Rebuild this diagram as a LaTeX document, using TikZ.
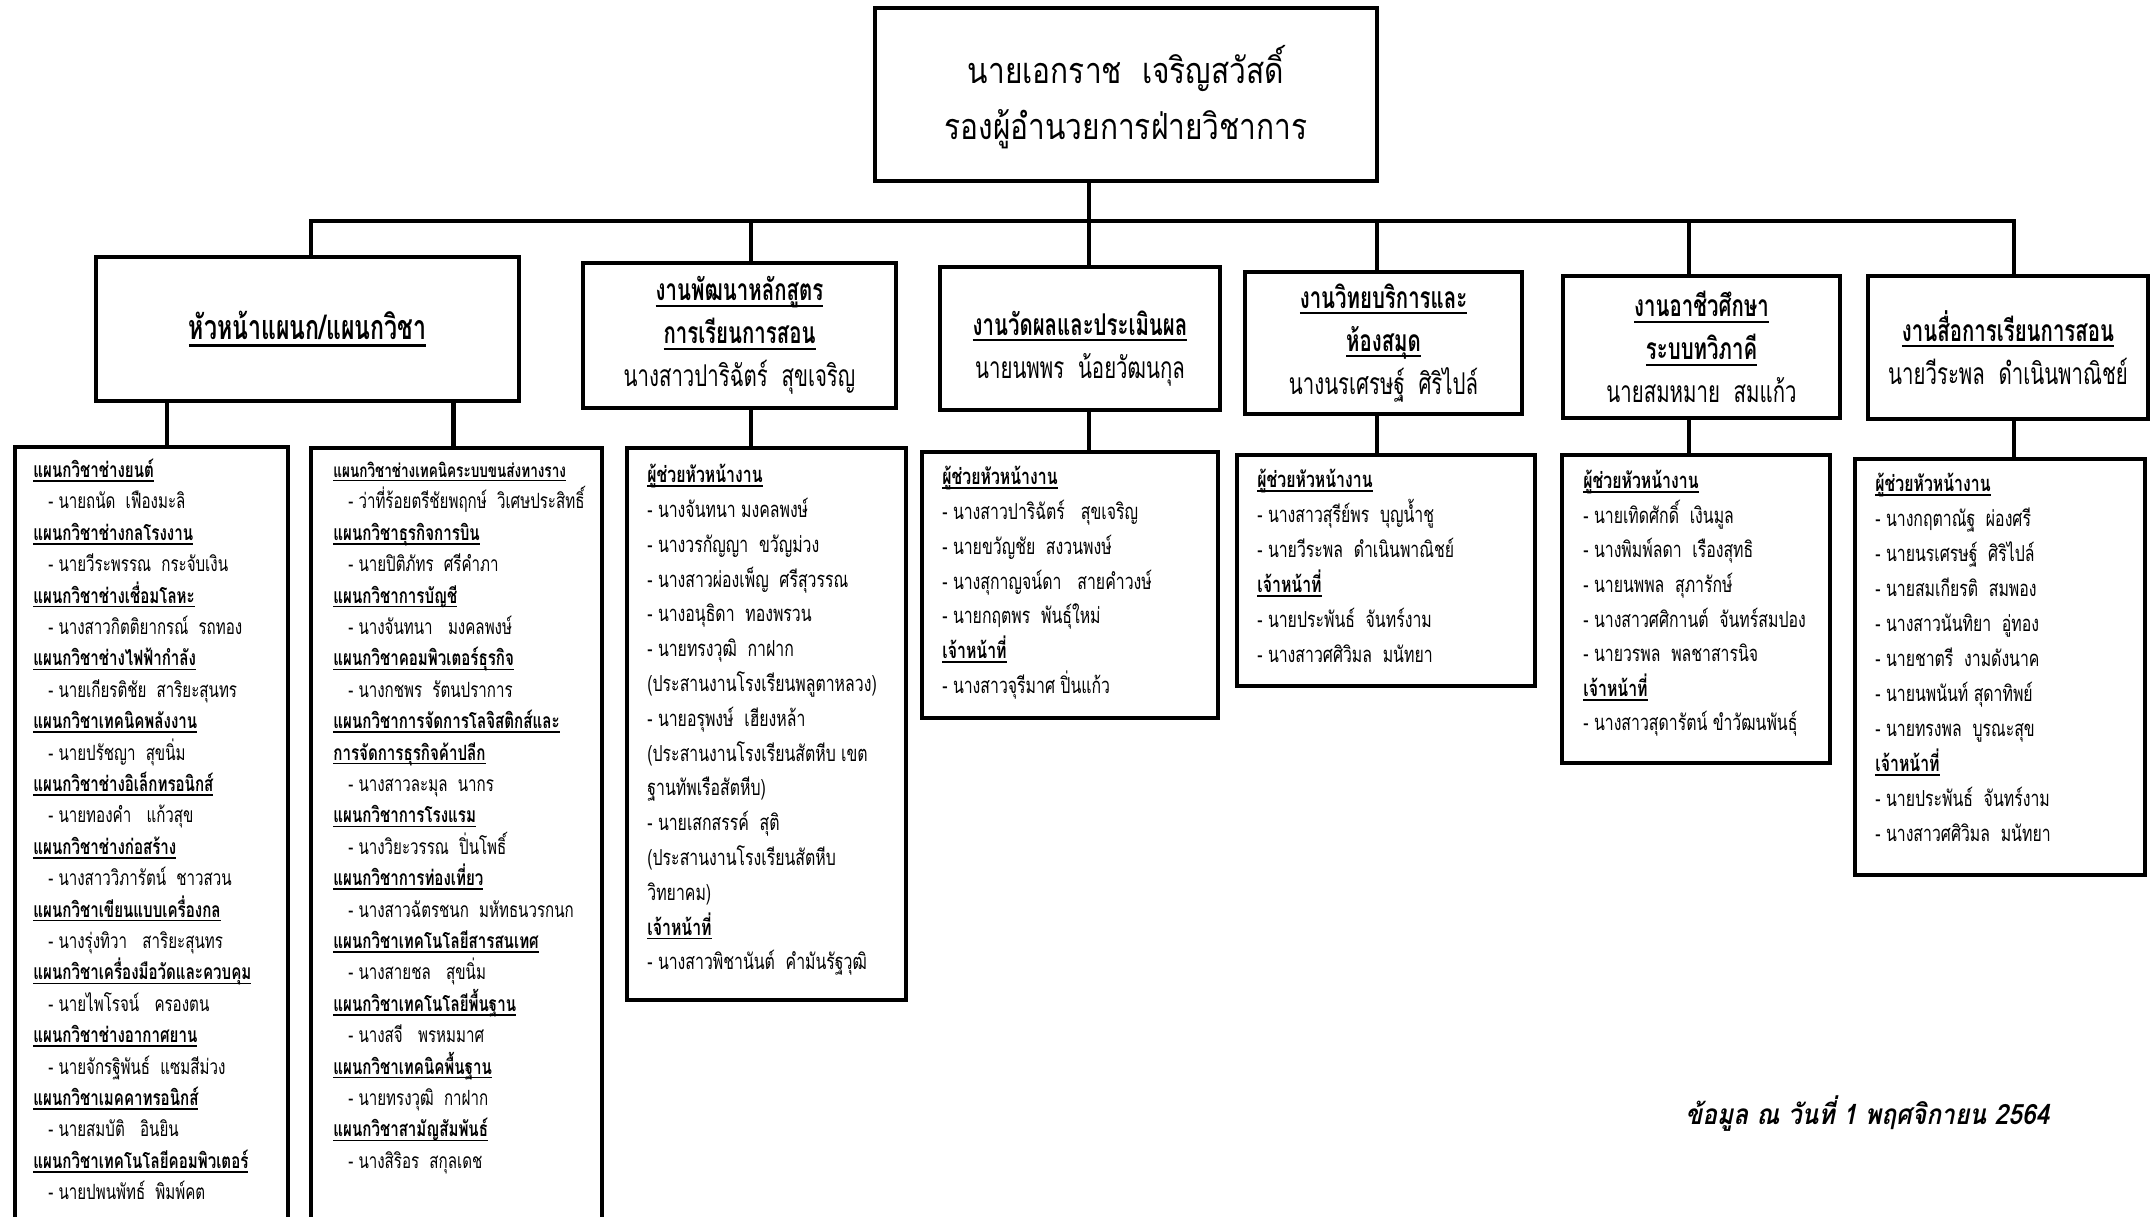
\documentclass[tikz,border=0pt]{standalone}
\usepackage{fontspec}
\usepackage{tikz}
\newfontfamily\topfont[Script=Thai,FakeStretch=0.83]{Loma}
\newfontfamily\headfont[Script=Thai,FakeStretch=0.68]{Loma}
\newfontfamily\listfont[Script=Thai,FakeStretch=0.72]{Loma}
\newfontfamily\datefont[Script=Thai,FakeSlant=0.2,FakeStretch=0.88]{Loma}
\newcommand{\hd}[1]{\setbox0=\hbox{\bfseries #1}\rlap{\rule[-0.2em]{\wd0}{0.07em}}\box0}
\newcommand{\ind}{\hspace*{7.5pt}}
\newcommand{\toprule}{\rule{0pt}{1.1em}}

\begin{document}
\begin{tikzpicture}[x=0.5pt,y=-0.5pt,
	boxnode/.style={draw, line width=2.2pt, inner sep=0pt, outer sep=0pt, align=center},
	link/.style={line width=2.2pt, line join=miter},
	listnode/.style={anchor=north west, align=left, inner sep=0pt}]
	\useasboundingbox (0,0) rectangle (2152,1216);
	\clip (0,0) rectangle (2152,1216);
	%%%nodes
	%top
	\node[boxnode, minimum width=250.8pt, minimum height=86.3pt, font=\topfont\fontsize{18}{28}\selectfont] at (1126,94.5) (vice){\rule{0pt}{21.5pt}นายเอกราช~~เจริญสวัสดิ์\\รองผู้อำนวยการฝ่ายวิชาการ};
	%level 1
	\node[boxnode, minimum width=211.3pt, minimum height=71.8pt, font=\headfont\fontsize{17}{21.5}\selectfont] at (307.5,329) (heads){\hd{หัวหน้าแผนก/แผนกวิชา}};
	\node[boxnode, minimum width=156.3pt, minimum height=72.3pt, font=\headfont\fontsize{15}{21.5}\selectfont] at (739.5,335.5) (curri){\hd{งานพัฒนาหลักสูตร}\\\hd{การเรียนการสอน}\\นางสาวปาริฉัตร์~~สุขเจริญ};
	\node[boxnode, minimum width=139.8pt, minimum height=71.3pt, font=\headfont\fontsize{15}{21.5}\selectfont] at (1080,338.5) (measure){\rule{0pt}{22pt}\hd{งานวัดผลและประเมินผล}\\นายนพพร~~น้อยวัฒนกุล};
	\node[boxnode, minimum width=138.3pt, minimum height=70.8pt, font=\headfont\fontsize{15}{21.5}\selectfont] at (1383.5,343) (library){\hd{งานวิทยบริการและ}\\\hd{ห้องสมุด}\\นางนรเศรษฐ์~~ศิริไปล์};
	\node[boxnode, minimum width=138.3pt, minimum height=70.8pt, font=\headfont\fontsize{15}{21.5}\selectfont] at (1701.5,347) (dual){\hd{งานอาชีวศึกษา}\\\hd{ระบบทวิภาคี}\\นายสมหมาย~~สมแก้ว};
	\node[boxnode, minimum width=139.8pt, minimum height=71.3pt, font=\headfont\fontsize{15}{21.5}\selectfont] at (2008,347.5) (media){\rule{0pt}{15pt}\hd{งานสื่อการเรียนการสอน}\\นายวีระพล~~ดำเนินพาณิชย์};
	%level 2
	\node[boxnode, minimum width=136.3pt, minimum height=392.8pt] at (151.5,840) (deptA){};
	\node[boxnode, minimum width=145.3pt, minimum height=392.3pt] at (456.5,840.5) (deptB){};
	\node[boxnode, minimum width=139.3pt, minimum height=276pt] at (766.5,724) (curriL){};
	\node[boxnode, minimum width=147.8pt, minimum height=132.8pt] at (1070,585) (measureL){};
	\node[boxnode, minimum width=148.8pt, minimum height=115.3pt] at (1386,570.5) (libraryL){};
	\node[boxnode, minimum width=133.8pt, minimum height=153.8pt] at (1696,609) (dualL){};
	\node[boxnode, minimum width=144.8pt, minimum height=207.8pt] at (2000,667) (mediaL){};
	%lists
	\node[listnode, font=\listfont\fontsize{10.5}{15.7}\selectfont] at (33,454) (deptAtext){\toprule\hd{แผนกวิชาช่างยนต์}\\
		\ind- นายถนัด~~เฟืองมะลิ\\
		\hd{แผนกวิชาช่างกลโรงงาน}\\
		\ind- นายวีระพรรณ~~กระจับเงิน\\
		\hd{แผนกวิชาช่างเชื่อมโลหะ}\\
		\ind- นางสาวกิตติยากรณ์~~รถทอง\\
		\hd{แผนกวิชาช่างไฟฟ้ากำลัง}\\
		\ind- นายเกียรติชัย~~สาริยะสุนทร\\
		\hd{แผนกวิชาเทคนิคพลังงาน}\\
		\ind- นายปรัชญา~~สุขนิ่ม\\
		\hd{แผนกวิชาช่างอิเล็กทรอนิกส์}\\
		\ind- นายทองคำ~~~แก้วสุข\\
		\hd{แผนกวิชาช่างก่อสร้าง}\\
		\ind- นางสาววิภารัตน์~~ชาวสวน\\
		\hd{แผนกวิชาเขียนแบบเครื่องกล}\\
		\ind- นางรุ่งทิวา~~~สาริยะสุนทร\\
		\hd{แผนกวิชาเครื่องมือวัดและควบคุม}\\
		\ind- นายไพโรจน์~~~ครองตน\\
		\hd{แผนกวิชาช่างอากาศยาน}\\
		\ind- นายจักรฐิพันธ์~~แซมสีม่วง\\
		\hd{แผนกวิชาเมคคาทรอนิกส์}\\
		\ind- นายสมบัติ~~~อินยิน\\
		\hd{แผนกวิชาเทคโนโลยีคอมพิวเตอร์}\\
		\ind- นายปพนพัทธ์~~พิมพ์คต};
	\node[listnode, font=\listfont\fontsize{10.5}{15.7}\selectfont] at (333,454) (deptBtext){\toprule{\fontsize{9.4}{15.7}\selectfont\hd{แผนกวิชาช่างเทคนิคระบบขนส่งทางราง}}\\
		\ind- ว่าที่ร้อยตรีชัยพฤกษ์~~วิเศษประสิทธิ์\\
		\hd{แผนกวิชาธุรกิจการบิน}\\
		\ind- นายปิติภัทร~~ศรีคำภา\\
		\hd{แผนกวิชาการบัญชี}\\
		\ind- นางจันทนา~~~มงคลพงษ์\\
		\hd{แผนกวิชาคอมพิวเตอร์ธุรกิจ}\\
		\ind- นางกชพร~~รัตนปราการ\\
		\hd{แผนกวิชาการจัดการโลจิสติกส์และ}\\
		\hd{การจัดการธุรกิจค้าปลีก}\\
		\ind- นางสาวละมุล~~นากร\\
		\hd{แผนกวิชาการโรงแรม}\\
		\ind- นางวิยะวรรณ~~ปิ่นโพธิ์\\
		\hd{แผนกวิชาการท่องเที่ยว}\\
		\ind- นางสาวฉัตรชนก~~มหัทธนวรกนก\\
		\hd{แผนกวิชาเทคโนโลยีสารสนเทศ}\\
		\ind- นางสายชล~~~สุขนิ่ม\\
		\hd{แผนกวิชาเทคโนโลยีพื้นฐาน}\\
		\ind- นางสจี~~~พรหมมาศ\\
		\hd{แผนกวิชาเทคนิคพื้นฐาน}\\
		\ind- นายทรงวุฒิ~~กาฝาก\\
		\hd{แผนกวิชาสามัญสัมพันธ์}\\
		\ind- นางสิริอร~~สกุลเดช};
	\node[listnode, font=\listfont\fontsize{11}{17.4}\selectfont] at (647,458) (curritext){\toprule\hd{ผู้ช่วยหัวหน้างาน}\\
		- นางจันทนา มงคลพงษ์\\
		- นางวรกัญญา~~ขวัญม่วง\\
		- นางสาวผ่องเพ็ญ~~ศรีสุวรรณ\\
		- นางอนุธิดา~~ทองพรวน\\
		- นายทรงวุฒิ~~กาฝาก\\
		(ประสานงานโรงเรียนพลูตาหลวง)\\
		- นายอรุพงษ์~~เฮียงหล้า\\
		(ประสานงานโรงเรียนสัตหีบ เขต\\
		ฐานทัพเรือสัตหีบ)\\
		- นายเสกสรรค์~~สุติ\\
		(ประสานงานโรงเรียนสัตหีบ\\
		วิทยาคม)\\
		\hd{เจ้าหน้าที่}\\
		- นางสาวพิชานันต์~~คำมันรัฐวุฒิ};
	\node[listnode, font=\listfont\fontsize{11}{17.4}\selectfont] at (942,460) (measuretext){\toprule\hd{ผู้ช่วยหัวหน้างาน}\\
		- นางสาวปาริฉัตร์~~~สุขเจริญ\\
		- นายขวัญชัย~~สงวนพงษ์\\
		- นางสุกาญจน์ดา~~~สายคำวงษ์\\
		- นายกฤตพร~~พันธุ์ใหม่\\
		\hd{เจ้าหน้าที่}\\
		- นางสาวจุรีมาศ ปิ่นแก้ว};
	\node[listnode, font=\listfont\fontsize{11}{17.5}\selectfont] at (1257,463) (librarytext){\toprule\hd{ผู้ช่วยหัวหน้างาน}\\
		- นางสาวสุรีย์พร~~บุญน้ำชู\\
		- นายวีระพล~~ดำเนินพาณิชย์\\
		\hd{เจ้าหน้าที่}\\
		- นายประพันธ์~~จันทร์งาม\\
		- นางสาวศศิวิมล~~มนัทยา};
	\node[listnode, font=\listfont\fontsize{11}{17.3}\selectfont] at (1583,464) (dualtext){\toprule\hd{ผู้ช่วยหัวหน้างาน}\\
		- นายเทิดศักดิ์~~เงินมูล\\
		- นางพิมพ์ลดา~~เรืองสุทธิ\\
		- นายนพพล~~สุภารักษ์\\
		- นางสาวศศิกานต์~~จันทร์สมปอง\\
		- นายวรพล~~พลชาสารนิจ\\
		\hd{เจ้าหน้าที่}\\
		- นางสาวสุดารัตน์ ขำวัฒนพันธุ์};
	\node[listnode, font=\listfont\fontsize{11}{17.5}\selectfont] at (1875,467) (mediatext){\toprule\hd{ผู้ช่วยหัวหน้างาน}\\
		- นางกฤตาณัฐ~~ผ่องศรี\\
		- นายนรเศรษฐ์~~ศิริไปล์\\
		- นายสมเกียรติ~~สมพอง\\
		- นางสาวนันทิยา~~อู่ทอง\\
		- นายชาตรี~~งามดังนาค\\
		- นายนพนันท์ สุดาทิพย์\\
		- นายทรงพล~~บูรณะสุข\\
		\hd{เจ้าหน้าที่}\\
		- นายประพันธ์~~จันทร์งาม\\
		- นางสาวศศิวิมล~~มนัทยา};
	%date
	\node[anchor=base west, inner sep=0pt, font=\datefont\bfseries\fontsize{14}{16}\selectfont] at (1685,1124) (date){ข้อมูล ณ วันที่ 1 พฤศจิกายน 2564};
	%%%links
	\coordinate (busL) at (311,221);
	\coordinate (busR) at (2014,221);
	\coordinate (stem) at (1089,221);
	\coordinate (dropB) at (751,221);
	\coordinate (dropD) at (1377,221);
	\coordinate (dropE) at (1689,221);
	\coordinate (legA) at (167,403);
	\coordinate (legB) at (453.5,403);
	%bus
	\draw[link] (busL |- heads.north) -- (busL) -- (busR) -- (busR |- media.north);
	\draw[link] (vice.south -| stem) -- (stem |- measure.north);
	\draw[link] (dropB) -- (dropB |- curri.north);
	\draw[link] (dropD) -- (dropD |- library.north);
	\draw[link] (dropE) -- (dropE |- dual.north);
	%level 2
	\draw[link] (heads.south -| legA) -- (legA |- deptA.north);
	\draw[link] (heads.south -| legB) -- (legB |- deptB.north);
	\draw[link] (curri.south -| dropB) -- (dropB |- curriL.north);
	\draw[link] (measure.south -| stem) -- (stem |- measureL.north);
	\draw[link] (library.south -| dropD) -- (dropD |- libraryL.north);
	\draw[link] (dual.south -| dropE) -- (dropE |- dualL.north);
	\draw[link] (media.south -| busR) -- (busR |- mediaL.north);
\end{tikzpicture}
\end{document}
